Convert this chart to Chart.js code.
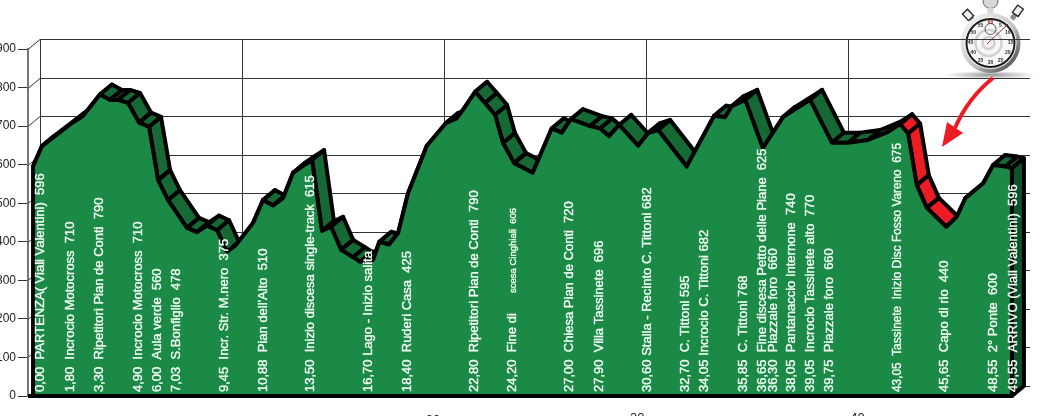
<!DOCTYPE html>
<html>
<head>
<meta charset="utf-8">
<style>
    html, body { margin: 0; padding: 0; background: #fff; overflow: hidden; }
    canvas { display: block; }
</style>
<script src="https://cdn.jsdelivr.net/npm/chart.js@4"></script>
</head>
<body>
<canvas id="profileChart" width="1042" height="416"></canvas>
<script>
// profile vertices, on the chart's own x axis
const profileX = [0.25, 0.69, 2.18, 2.72, 3.56, 4.06, 4.46, 4.95, 5.5, 5.99, 6.44, 6.93, 7.87, 8.37, 8.86, 9.36, 9.85, 10.3, 11.14, 11.63, 12.13, 12.62, 13.12, 13.56, 14.06, 14.55, 15.0, 15.5, 16.09, 16.44, 17.08, 17.39, 17.87, 18.32, 18.81, 19.74, 20.69, 21.22, 21.53, 22.13, 22.62, 23.12, 23.51, 24.06, 24.98, 25.92, 26.42, 26.87, 27.82, 28.32, 28.76, 29.26, 30.2, 30.69, 31.19, 32.6, 33.96, 34.5, 34.84, 35.5, 36.37, 37.38, 38.71, 39.79, 40.59, 41.58, 42.57, 43.17, 43.56, 43.99, 44.49, 45.45, 45.97, 46.39, 47.28, 47.77, 48.37, 48.7];
const profileY = [596, 648, 708, 726, 782, 768, 768, 760, 709, 698, 560, 508, 436, 425, 442, 430, 374, 392, 449, 508, 494, 513, 579, 595, 612, 428, 439, 379, 360, 348, 353, 400, 393, 423, 526, 649, 708, 720, 742, 789, 760, 729, 656, 604, 579, 694, 683, 718, 700, 694, 674, 703, 649, 682, 690, 595, 727, 723, 752, 768, 643, 724, 768, 657, 657, 664, 685, 705, 681, 547, 488, 439, 465, 513, 552, 599, 595, 591];

const waypointX = [0.59, 2.03, 3.47, 5.4, 6.34, 7.28, 9.65, 11.58, 13.91, 16.78, 18.71, 22.03, 23.91, 26.73, 28.22, 30.59, 32.48, 33.42, 35.35, 36.29, 36.83, 37.72, 38.67, 39.6, 42.97, 45.3, 47.72, 48.71];
const waypointText = [
    '0,00  PARTENZA( Viali Valentini)  596',
    '1,80  Incrocio Motocross  710',
    '3,30  Ripetitori Pian de Conti  790',
    '4,90  Incrocio Motocross  710',
    '6,00  Aula verde  560',
    '7,03  S.Bonfiglio  478',
    '9,45  Incr. Str. M.nero  375',
    "10,88  Pian dell'Alto  510",
    '13,50  Inizio discesa single-track  615',
    '16,70 Lago - Inizio salita',
    '18,40  Ruderi Casa  425',
    '22,80  Ripetitori Pian de Conti  790',
    '24,20  Fine di',
    '27,00  Chiesa Pian de Conti  720',
    '27,90  Villa Tassinete  696',
    '30,60 Stalla - Recinto C. Tittoni 682',
    '32,70  C. Tittoni 595',
    '34,05 Incrocio C. Tittoni 682',
    '35,85  C. Tittoni 768',
    '36,65  Fine discesa Petto delle Piane  625',
    '36,30  Piazzale foro  660',
    '38,05  Pantanaccio Internone  740',
    '39,05  Incrocio Tassinete alto  770',
    '39,75  Piazzale foro  660',
    '43,05  Tassinete  Inizio Disc Fosso Vareno  675',
    '45,65  Capo di rio  440',
    '48,55  2° Ponte  600',
    '49,55  ARRIVO (Viali Valentini)  596'
];
const smallNoteText = 'scesa Cinghiali  605';
const smallNoteX = 23.98;

const axisLabelX = [20.05, 30.15, 41.05];
const axisLabelText = ['20', '30', '40'];

// the stretch the arrow points at
const redFrom = 43.17;
const redTo = 45.97;

const watchNumbers = ['60', '5', '10', '15', '20', '25', '30', '35', '40', '45', '50', '55'];

// depth of the fake 3D box, in pixels
const depthX = 12;
const depthY = 10;

const GREEN = '#1c8a47';
const RIBBON = '#166934';
const SIDE = '#0f5229';
const RED = '#ed1c24';

const profile = profileX.map((x, i) => ({ x, y: profileY[i] }));
const lastX = profileX[profileX.length - 1];
const outline = [{ x: 0, y: 0 }, { x: profileX[0], y: 0 }, ...profile, { x: lastX, y: 0 }, { x: 0, y: 0 }];

const drawWatch = (ctx) => {
    const cx = 990.5, cy = 43, r = 30;
    ctx.save();

    // shadow on the floor
    const shadow = ctx.createRadialGradient(cx, 75, 2, cx, 75, 46);
    shadow.addColorStop(0, 'rgba(90,90,90,.6)');
    shadow.addColorStop(1, 'rgba(90,90,90,0)');
    ctx.save();
    ctx.translate(0, 75 * (1 - 0.09));
    ctx.scale(1, 0.09);
    ctx.fillStyle = shadow;
    ctx.beginPath();
    ctx.arc(cx, 75, 46, 0, Math.PI * 2);
    ctx.fill();
    ctx.restore();

    // crown and side buttons
    ctx.fillStyle = '#d8d8d8';
    ctx.strokeStyle = '#666';
    ctx.lineWidth = 1;
    ctx.beginPath();
    ctx.arc(cx, 1, 7.5, 0, Math.PI * 2);
    ctx.fill();
    ctx.stroke();
    ctx.fillRect(cx - 3, 8, 6, 6);
    [[969, 16, -0.75], [1017, 12, 0.62]].forEach(([x, y, a]) => {
        ctx.save();
        ctx.translate(x, y);
        ctx.rotate(a);
        ctx.fillStyle = '#8a8a8a';
        ctx.fillRect(-2.5, 1, 5, 8);
        ctx.fillStyle = '#eee';
        ctx.strokeStyle = '#222';
        ctx.lineWidth = 1.3;
        ctx.fillRect(-3.5, -6, 7, 9);
        ctx.strokeRect(-3.5, -6, 7, 9);
        ctx.restore();
    });

    // case
    const body = ctx.createLinearGradient(cx - r, cy - r, cx + r, cy + r);
    body.addColorStop(0, '#ffffff');
    body.addColorStop(0.55, '#c4c4c4');
    body.addColorStop(1, '#2e2e2e');
    ctx.fillStyle = body;
    ctx.beginPath();
    ctx.arc(cx, cy, r, 0, Math.PI * 2);
    ctx.fill();
    ctx.fillStyle = '#f7f7f7';
    ctx.beginPath();
    ctx.arc(cx, cy, 26, 0, Math.PI * 2);
    ctx.fill();
    ctx.strokeStyle = '#1c1c1c';
    ctx.lineWidth = 2;
    ctx.beginPath();
    ctx.arc(cx, cy, 24, 0, Math.PI * 2);
    ctx.stroke();

    // rings on the dial
    ctx.strokeStyle = '#d0d0d0';
    ctx.lineWidth = 2.5;
    [6, 13].forEach(rad => {
        ctx.beginPath();
        ctx.arc(cx - 2, cy, rad, 0, Math.PI * 2);
        ctx.stroke();
    });

    ctx.font = 'bold 5px "Liberation Sans"';
    ctx.textAlign = 'center';
    ctx.textBaseline = 'middle';
    watchNumbers.forEach((n, i) => {
        const a = i * Math.PI / 6 - Math.PI / 2;
        ctx.fillStyle = i === 0 ? '#b02a1e' : '#333';
        ctx.fillText(n, cx + Math.cos(a) * 20, cy + Math.sin(a) * 20);
    });

    // small dial and hand
    ctx.strokeStyle = '#333';
    ctx.lineWidth = 0.8;
    ctx.beginPath();
    ctx.arc(cx, 29, 5.5, 0, Math.PI * 2);
    ctx.stroke();
    ctx.strokeStyle = '#8c3a2a';
    ctx.lineWidth = 1;
    ctx.beginPath();
    ctx.moveTo(cx - 3.5, cy + 1);
    ctx.lineTo(1008, 24);
    ctx.stroke();
    ctx.restore();
};

const drawArrow = (ctx) => {
    ctx.save();
    ctx.strokeStyle = RED;
    ctx.fillStyle = RED;
    ctx.lineWidth = 4;
    ctx.beginPath();
    ctx.moveTo(993, 78);
    ctx.quadraticCurveTo(968, 98, 955, 128);
    ctx.stroke();
    ctx.beginPath();
    ctx.moveTo(942, 147);
    ctx.lineTo(947, 122);
    ctx.lineTo(963, 133);
    ctx.closePath();
    ctx.fill();
    ctx.restore();
};

const drawUpright = (ctx, text, px, py, maxWidth) => {
    ctx.save();
    ctx.translate(px, py);
    ctx.rotate(-Math.PI / 2);
    ctx.fillText(text, 0, 0, maxWidth);
    ctx.strokeText(text, 0, 0, maxWidth);
    ctx.restore();
};

const boxPlugin = {
    id: 'box',
    beforeDatasetsDraw(chart) {
        const { ctx, scales: { x, y } } = chart;
        const left = x.getPixelForValue(0);
        const right = x.getPixelForValue(49);
        const top = y.getPixelForValue(900);
        const floor = y.getPixelForValue(0);

        drawWatch(ctx);

        ctx.save();
        ctx.lineWidth = 1;

        // back wall and left wall
        ctx.strokeStyle = '#333';
        y.ticks.forEach(t => {
            const py = Math.round(y.getPixelForValue(t.value)) + 0.5;
            ctx.beginPath();
            ctx.moveTo(left, py);
            ctx.lineTo(left + depthX, py - depthY);
            ctx.lineTo(right + depthX, py - depthY);
            ctx.stroke();
        });
        x.ticks.filter(t => t.value % 10 === 0).forEach(t => {
            const px = Math.round(x.getPixelForValue(t.value)) + depthX + 0.5;
            ctx.beginPath();
            ctx.moveTo(px, top - depthY);
            ctx.lineTo(px, floor - depthY);
            ctx.stroke();
        });
        ctx.restore();

        // ribbon behind the front face, one quad per stretch
        ctx.save();
        ctx.lineWidth = 4;
        ctx.lineJoin = 'round';
        ctx.strokeStyle = '#000';
        for (let i = 2; i < outline.length - 2; i++) {
            const a = outline[i];
            const b = outline[i + 1];
            const ax = x.getPixelForValue(a.x), ay = y.getPixelForValue(a.y);
            const bx = x.getPixelForValue(b.x), by = y.getPixelForValue(b.y);
            const isSide = i === outline.length - 3;
            ctx.fillStyle = isSide ? SIDE : (a.x >= redFrom && b.x <= redTo ? RED : RIBBON);
            ctx.beginPath();
            ctx.moveTo(ax, ay);
            ctx.lineTo(bx, by);
            ctx.lineTo(bx + depthX, by - depthY);
            ctx.lineTo(ax + depthX, ay - depthY);
            ctx.closePath();
            ctx.fill();
            ctx.stroke();
        }
        ctx.restore();
    },
    afterDatasetsDraw(chart) {
        const { ctx, scales: { x, y } } = chart;
        const floor = y.getPixelForValue(0);

        drawArrow(ctx);

        ctx.save();
        ctx.fillStyle = '#f4fff6';
        ctx.strokeStyle = '#f4fff6';
        ctx.lineWidth = 0.35;
        ctx.textBaseline = 'middle';
        ctx.textAlign = 'left';
        ctx.font = '13px "Liberation Sans"';
        waypointX.forEach((v, i) => {
            // the Fosso Vareno label is squeezed in the original
            const maxWidth = waypointText[i].startsWith('43,05') ? 249 : undefined;
            drawUpright(ctx, waypointText[i], x.getPixelForValue(v) + 1, floor - 4, maxWidth);
        });
        ctx.font = '9.5px "Liberation Sans"';
        drawUpright(ctx, smallNoteText, x.getPixelForValue(smallNoteX) + 1, floor - 103);
        ctx.restore();

        ctx.save();
        ctx.fillStyle = '#222';
        ctx.font = '13px "Liberation Sans"';
        ctx.textAlign = 'center';
        ctx.textBaseline = 'top';
        axisLabelX.forEach((v, i) => {
            ctx.fillText(axisLabelText[i], x.getPixelForValue(v), floor + 16 + (i === 0 ? 2 : 0));
        });
        ctx.restore();
    }
};

new Chart(document.getElementById('profileChart'), {
    type: 'line',
    data: {
        datasets: [{
            // black outline, goes round the whole front face
            data: outline,
            parsing: false,
            fill: false,
            borderColor: '#000',
            borderWidth: 4,
            borderJoinStyle: 'round',
            pointRadius: 0,
            tension: 0,
            clip: false
        }, {
            // green front face
            data: profile,
            parsing: false,
            backgroundColor: GREEN,
            borderWidth: 0,
            fill: 'origin',
            pointRadius: 0,
            tension: 0,
            clip: false
        }]
    },
    options: {
        responsive: false,
        animation: false,
        layout: { padding: { top: 49, right: 24, left: 0, bottom: 0 } },
        scales: {
            x: {
                type: 'linear',
                min: 0,
                max: 49,
                afterFit: scale => { scale.height = 20; },
                grid: { display: false },
                border: { display: false },
                ticks: { display: false, stepSize: 10 }
            },
            y: {
                min: 0,
                max: 900,
                afterFit: scale => { scale.width = 28; },
                grid: { drawOnChartArea: false, tickLength: 10, tickColor: '#333' },
                border: { color: '#777', width: 2 },
                ticks: {
                    stepSize: 100,
                    padding: 2,
                    color: '#222',
                    font: { family: 'Liberation Sans', size: 12 }
                }
            }
        },
        plugins: {
            legend: { display: false },
            tooltip: { enabled: false }
        }
    },
    plugins: [boxPlugin]
});
</script>
</body>
</html>
